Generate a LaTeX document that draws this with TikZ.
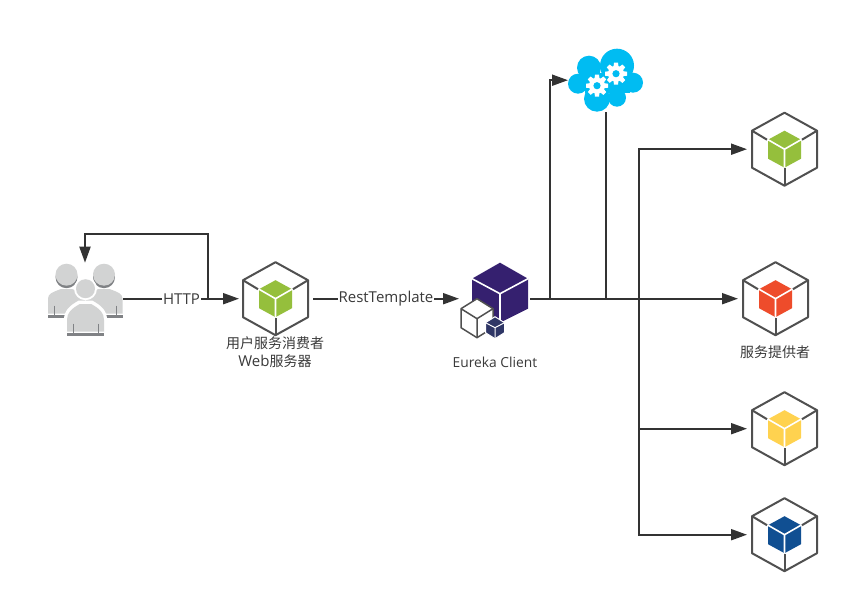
\documentclass[tikz,border=0pt]{standalone}
\usepackage{fontspec}
\setmainfont{Open Sans}
\newfontfamily\cjk{Noto Sans CJK SC}
\usetikzlibrary{arrows.meta}
\definecolor{linecol}{HTML}{333333}
\definecolor{hexcol}{HTML}{505050}
\definecolor{txtcol}{HTML}{3A3A3A}
\definecolor{cgreen}{HTML}{95BF3C}
\definecolor{cred}{HTML}{EE4C2B}
\definecolor{cyellow}{HTML}{FFD24F}
\definecolor{cblue}{HTML}{104F92}
\definecolor{cpurple}{HTML}{35206F}
\definecolor{cnavy}{HTML}{2F3666}
\definecolor{cloudcol}{HTML}{00BCF2}
\definecolor{ppl}{HTML}{D2D3D3}
\definecolor{ppldark}{HTML}{808285}
\tikzset{
  conn/.style={draw=linecol,line width=2pt},
  arrowconn/.style={conn,-{Triangle[length=16pt,width=11pt]}},
  iconbox/.style={inner sep=0pt,outer sep=0pt},
  edgelabel/.style={fill=white,inner sep=1pt,text=txtcol,font=\fontsize{15}{17}\selectfont},
  caption/.style={align=center,text=txtcol,inner sep=0pt,font=\fontsize{14}{18}\selectfont},
  hexline/.style={draw=hexcol,line width=2pt,line join=round},
  whiteline/.style={draw=white,line width=1.6pt}
}
\newcommand{\hexcube}[4]{%
  \node[iconbox,minimum width=65pt,minimum height=73pt] (#1) at (#2,#3) {};
  \begin{scope}[shift={(#2,#3)}]
    \draw[hexline] (-17.5,-9.5) -- (-32.5,-18.5) -- (0,-36.5) -- (32.5,-18.5) -- (17.5,-9.5);
    \draw[hexline] (-32.5,-18.5) -- (-32.5,18.5) -- (0,36.5) -- (32.5,18.5) -- (32.5,-18.5);
    \draw[hexline] (0,36.5) -- (0,19);
    \fill[#4] (0,-18.5) -- (16.5,-9.5) -- (16.5,9.5) -- (0,18.5) -- (-16.5,9.5) -- (-16.5,-9.5) -- cycle;
    \draw[whiteline] (-16.5,-9.5) -- (0,0) -- (16.5,-9.5) (0,0) -- (0,18.5);
  \end{scope}
}
\newcommand{\gearicon}[2]{%
  \begin{scope}[shift={(#1,#2)}]
    \fill[white] (0,0) circle[radius=8];
    \foreach \a in {0,45,...,315}{
      \fill[white,rotate=\a] (-2,-11) -- (2,-11) -- (2.6,-6) -- (-2.6,-6) -- cycle;
    }
    \fill[cloudcol] (0,0) circle[radius=3.6];
  \end{scope}
}
% #1 = centre x, #2 = y of the head centre
\newcommand{\person}[2]{%
  \begin{scope}[shift={(#1,#2)}]
    \fill[ppl] (-18.5,39) -- (-18.5,24) .. controls (-18.5,19) and (-14,17.5) .. (-6,14.5) -- (6,14.5) .. controls (14,17.5) and (18.5,19) .. (18.5,24) -- (18.5,39) -- cycle;
    \fill[ppldark] (-18.5,40) rectangle (18.5,43);
    \draw[ppldark,line width=.8pt] (-12,31) -- (-12,40) (12,31) -- (12,40);
    \fill[ppldark] (0,2.5) circle[radius=11];
    \fill[ppl] (0,0) circle[radius=11];
  \end{scope}
}
\begin{document}
\begin{tikzpicture}[x=1pt,y=-1pt]
\useasboundingbox (0,-0.7) rectangle (853,603.3);
\fill[white] (0,-0.7) rectangle (853,603.3);

% users
\node[iconbox,minimum width=76pt,minimum height=72pt] (users) at (85,298) {};
\person{66.5}{274}
\person{104}{274}
\begin{scope}[shift={(85.5,0)}]
  \fill[white] (-21.5,338) -- (-21.5,319) .. controls (-21.5,310) and (-16,305) .. (-7,300) -- (7,300) .. controls (16,305) and (21.5,310) .. (21.5,319) -- (21.5,338) -- cycle;
  \fill[ppl] (-18.5,331) -- (-18.5,319) .. controls (-18.5,312) and (-14,308) .. (-6,303.5) -- (6,303.5) .. controls (14,308) and (18.5,312) .. (18.5,319) -- (18.5,331) -- cycle;
  \fill[ppldark] (-18.5,332) rectangle (18.5,335);
  \draw[ppldark,line width=.8pt] (-12.5,323) -- (-12.5,332) (12.5,323) -- (12.5,332);
  \fill[white] (0,288) circle[radius=11.5];
  \fill[ppl] (0,288) circle[radius=9.5];
\end{scope}

% service cubes
\hexcube{consumer}{275.5}{298}{cgreen}
\hexcube{provgreen}{784.5}{148.5}{cgreen}
\hexcube{provred}{775.5}{298}{cred}
\hexcube{provyellow}{784.5}{428}{cyellow}
\hexcube{provblue}{784.5}{534}{cblue}

% eureka cluster
\node[iconbox,minimum width=70pt,minimum height=72pt] (eureka) at (495,298) {};
\fill[cpurple] (500,262) -- (528,278) -- (528,308) -- (500,322) -- (472,308) -- (472,278) -- cycle;
\draw[whiteline] (472,278) -- (500,293) -- (528,278) (500,293) -- (500,322);
\draw[fill=white,draw=hexcol,line width=1.5pt,line join=round] (477,298) -- (493,308) -- (493,327) -- (477,337) -- (461,327) -- (461,308) -- cycle;
\draw[hexcol,line width=1.5pt] (461,308) -- (477,318) -- (493,308) (477,318) -- (477,337);
\fill[cnavy,draw=white,line width=1pt] (495,316) -- (504.5,322) -- (504.5,332) -- (495,338) -- (485.5,332) -- (485.5,322) -- cycle;
\draw[white,line width=1pt] (485.5,322) -- (495,327) -- (504.5,322) (495,327) -- (495,338);

% cloud
\node[iconbox,minimum width=75pt,minimum height=63pt] (cloud) at (605.5,79.5) {};
\fill[cloudcol] (617,65) circle[radius=17];
\fill[cloudcol] (589,67) circle[radius=12];
\fill[cloudcol] (578,83) circle[radius=10];
\fill[cloudcol] (633,82) circle[radius=10];
\fill[cloudcol] (597,98) circle[radius=13];
\fill[cloudcol] (617,97) circle[radius=9];
\fill[cloudcol] (585,72) rectangle (630,92);
\gearicon{597}{85}
\gearicon{616}{73}

% junctions
\coordinate (loopstart) at (208,298);
\coordinate (looptop) at (208,233);
\coordinate (jcloudin) at (550,298);
\coordinate (jcloudout) at (605.5,298);
\coordinate (jbus) at (639,298);

% connectors
\draw[arrowconn,shorten >=4pt] (users.east) -- (consumer.west);
\draw[arrowconn] (loopstart) -- (looptop) -- (looptop -| users.north) -- (users.north);
\draw[arrowconn,shorten <=5pt,shorten >=1pt] (consumer.east) -- (eureka.west);
\draw[arrowconn] (eureka.east) -- (jcloudin) -- (jcloudin |- cloud.west) -- (cloud.west);
\draw[conn] (eureka.east) -- (jcloudout) -- (cloud.south);
\draw[arrowconn,shorten >=5pt] (eureka.east) -- (provred.west);
\draw[arrowconn,shorten >=5pt] (eureka.east) -- (jbus) -- (jbus |- provgreen.west) -- (provgreen.west);
\draw[arrowconn,shorten >=5pt] (eureka.east) -- (jbus) -- (jbus |- provyellow.west) -- (provyellow.west);
\draw[arrowconn,shorten >=5pt] (eureka.east) -- (jbus) -- (jbus |- provblue.west) -- (provblue.west);

% labels
\node[edgelabel] (httplabel) at (181.5,298) {HTTP};
\node[edgelabel] (restlabel) at (386,298) {RestTemplate};
\node[caption] (consumerlabel) at (275,351) {{\cjk 用户服务消费者}\\{\fontsize{15}{18}\selectfont Web}{\cjk 服务器}};
\node[caption] (providerlabel) at (775,351) {\cjk 服务提供者};
\node[caption,font=\fontsize{13.8}{18}\selectfont] (eurekalabel) at (495,362) {Eureka Client};
\end{tikzpicture}
\end{document}
